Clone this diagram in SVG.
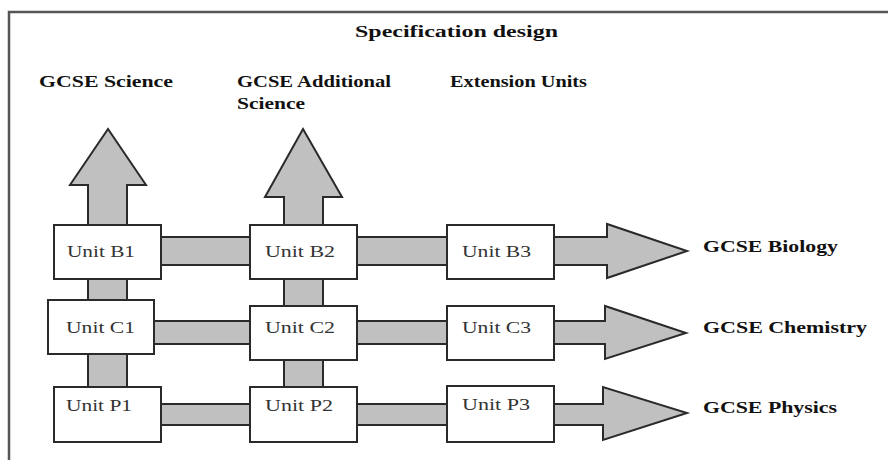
<svg xmlns="http://www.w3.org/2000/svg" width="888" height="462" viewBox="0 0 888 462">
  <style>
    .frame { fill: none; stroke: #555; stroke-width: 2.5; }
    .arrow { fill: #c0c0c0; stroke: #2a2a2a; stroke-width: 2; stroke-linejoin: miter; }
    .box { fill: #ffffff; stroke: #2a2a2a; stroke-width: 2; }
    .unit { font-family: "Liberation Serif", "Times New Roman", serif; font-size: 17px; fill: #333; }
    .head { font-family: "Liberation Serif", "Times New Roman", serif; font-size: 16px; font-weight: bold; fill: #111; }
  </style>
  <rect width="888" height="462" fill="#ffffff"/>
  <path class="frame" d="M9,460 L9,12 L888,12"/>

  <g id="title"><text class="head" x="355" y="37" textLength="203" lengthAdjust="spacingAndGlyphs">Specification design</text></g>
  <g id="hdr-science"><text class="head" x="39" y="87" textLength="134" lengthAdjust="spacingAndGlyphs">GCSE Science</text></g>
  <g id="hdr-additional">
    <text class="head" x="237" y="87" textLength="154" lengthAdjust="spacingAndGlyphs">GCSE Additional</text>
    <text class="head" x="237" y="109" textLength="68" lengthAdjust="spacingAndGlyphs">Science</text>
  </g>
  <g id="hdr-extension"><text class="head" x="450" y="87" textLength="137" lengthAdjust="spacingAndGlyphs">Extension Units</text></g>

  <g id="connectors">
    <polygon class="arrow" points="88,390 88,185 70,185 108,129 146,185 127,185 127,390"/>
    <polygon class="arrow" points="284,390 284,197 265,197 303,129 342,197 323,197 323,390"/>
    <polygon class="arrow" points="158,237 607,237 607,224 687,251 607,278 607,265 158,265"/>
    <polygon class="arrow" points="150,321 605,321 605,306 686,333 605,359 605,344 150,344"/>
    <polygon class="arrow" points="158,404 603,404 603,387 687,413 603,440 603,425 158,425"/>
  </g>

  <g id="unit-b1"><rect class="box" x="54" y="225" width="107" height="54"/><text class="unit" x="67" y="257" textLength="68" lengthAdjust="spacingAndGlyphs">Unit B1</text></g>
  <g id="unit-c1"><rect class="box" x="48" y="300" width="106" height="54"/><text class="unit" x="66" y="333" textLength="69" lengthAdjust="spacingAndGlyphs">Unit C1</text></g>
  <g id="unit-p1"><rect class="box" x="54" y="387" width="107" height="55"/><text class="unit" x="66" y="411" textLength="66" lengthAdjust="spacingAndGlyphs">Unit P1</text></g>

  <g id="unit-b2"><rect class="box" x="250" y="225" width="107" height="54"/><text class="unit" x="265" y="257" textLength="70" lengthAdjust="spacingAndGlyphs">Unit B2</text></g>
  <g id="unit-c2"><rect class="box" x="250" y="306" width="107" height="54"/><text class="unit" x="265" y="333" textLength="70" lengthAdjust="spacingAndGlyphs">Unit C2</text></g>
  <g id="unit-p2"><rect class="box" x="250" y="387" width="107" height="55"/><text class="unit" x="265" y="411" textLength="68" lengthAdjust="spacingAndGlyphs">Unit P2</text></g>

  <g id="unit-b3"><rect class="box" x="447" y="225" width="107" height="54"/><text class="unit" x="462" y="257" textLength="69" lengthAdjust="spacingAndGlyphs">Unit B3</text></g>
  <g id="unit-c3"><rect class="box" x="447" y="306" width="107" height="54"/><text class="unit" x="462" y="333" textLength="69" lengthAdjust="spacingAndGlyphs">Unit C3</text></g>
  <g id="unit-p3"><rect class="box" x="447" y="386" width="107" height="56"/><text class="unit" x="462" y="410" textLength="68" lengthAdjust="spacingAndGlyphs">Unit P3</text></g>

  <g id="out-biology"><text class="head" x="703" y="252" textLength="135" lengthAdjust="spacingAndGlyphs">GCSE Biology</text></g>
  <g id="out-chemistry"><text class="head" x="703" y="333" textLength="164" lengthAdjust="spacingAndGlyphs">GCSE Chemistry</text></g>
  <g id="out-physics"><text class="head" x="703" y="413" textLength="134" lengthAdjust="spacingAndGlyphs">GCSE Physics</text></g>
</svg>
